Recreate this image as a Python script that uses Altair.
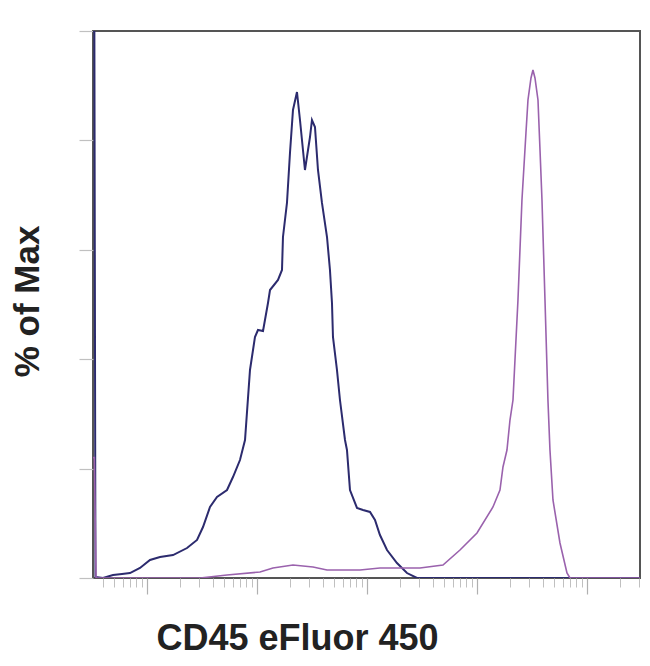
import altair as alt
import pandas as pd

# CD45 eFluor 450 intensity (arbitrary channel units, 0-1000) and % of Max
blue_x = [0, 2.5, 4.5, 18.3, 36.6, 53.0, 67.6, 85.9, 104.2, 122.5, 146.3, 171.9, 190.2, 201.1,
          213.9, 226.7, 245.0, 255.9, 268.7, 277.9, 287.0, 296.1, 301.6, 310.8, 319.9,
          323.6, 338.2, 345.5, 347.3, 354.6, 360.1, 365.6, 372.9, 378.4, 387.5, 396.7,
          400.3, 405.8, 411.3, 418.6, 427.8, 433.2, 436.9, 438.7, 446.0, 451.5, 460.7,
          464.3, 469.8, 482.6, 493.6, 506.4, 515.5, 524.6, 537.5, 555.7, 574.0, 592.3, 1000]
blue_y = [100, 100, 0.2, 0, 0.55, 0.73, 0.91, 1.83, 3.29, 3.84, 4.20, 5.48, 6.95, 9.32,
          12.98, 14.81, 16.09, 18.46, 21.57, 25.23, 38.03, 44.06, 45.34, 45.16, 50.27,
          52.65, 54.48, 56.31, 62.34, 68.56, 77.70, 85.56, 88.85, 83.73, 74.59, 80.62,
          83.73, 82.45, 74.59, 68.56, 62.34, 56.31, 50.27, 44.06, 38.03, 32.54, 25.23,
          23.40, 16.09, 12.80, 12.43, 12.07, 10.60, 7.86, 5.12, 2.74, 0.91, 0, 0]

purple_x = [0, 2.5, 5.5, 12.8, 195.6, 245.0, 305.3, 329.0, 365.6, 402.2, 427.8, 488.1, 524.6,
            548.4, 597.8, 639.8, 670.9, 702.0, 731.2, 744.0, 749.5, 756.8, 762.3, 767.8,
            776.9, 784.2, 791.5, 795.2, 800.7, 804.3, 808.0, 813.5, 817.2, 820.8, 826.3,
            831.7, 835.4, 840.9, 853.7, 866.5, 872.0, 1000]
purple_y = [22.0, 22.0, 0, 0, 0, 0.55, 1.10, 1.83, 2.38, 2.01, 1.46, 1.46, 1.83,
            1.83, 1.83, 2.38, 5.12, 8.23, 12.98, 16.09, 20.29, 23.40, 28.88, 32.54,
            50.82, 69.10, 81.35, 87.39, 91.41, 92.87, 91.41, 87.39, 78.24, 69.10, 50.82,
            32.54, 23.40, 14.26, 6.40, 0.91, 0, 0]

major_ticks = [99, 300, 501, 702, 903]
minor_ticks = [18.7, 38.2, 54.1, 67.5, 79.2, 89.5,
               159.2, 194.6, 219.8, 239.3, 255.2, 268.6, 280.3, 290.6,
               360.3, 395.7, 420.9, 440.4, 456.3, 469.7, 481.4, 491.7,
               561.4, 596.8, 622.0, 641.5, 657.4, 670.8, 682.5, 692.8,
               762.5, 797.9, 823.1, 842.6, 858.5, 871.9, 883.6, 893.9,
               963.6, 999.0]
y_ticks = [0, 20, 40, 60, 80, 100]

blue_df = pd.DataFrame({"x": blue_x, "y": blue_y})
purple_df = pd.DataFrame({"x": purple_x, "y": purple_y})

FONT = "Liberation Sans"
xscale = alt.Scale(domain=[0, 1000], nice=False, zero=False)
yscale = alt.Scale(domain=[0, 100], nice=False)

blue = alt.Chart(blue_df).mark_line(color="#2c2b6e", strokeWidth=2, clip=True).encode(
    x=alt.X("x:Q", scale=xscale,
            axis=alt.Axis(orient="bottom", values=major_ticks, labels=False, domain=False,
                          grid=False, tickSize=16, tickColor="#b0b0b0", tickWidth=1.2,
                          title="CD45 eFluor 450", titleFont=FONT, titleFontSize=36,
                          titleFontWeight="bold", titleColor="#222222",
                          titleAlign="left", titleBaseline="alphabetic",
                          titleX=63, titleY=71, titleAngle=0)),
    y=alt.Y("y:Q", scale=yscale,
            axis=alt.Axis(values=y_ticks, labels=False, domain=False, grid=False,
                          tickSize=14, tickColor="#c0c0c0", tickWidth=1.2,
                          title="% of Max", titleFont=FONT, titleFontSize=35,
                          titleFontWeight="bold", titleColor="#222222",
                          titleAngle=270, titleAlign="center", titleBaseline="middle",
                          titleX=-66, titleY=270)),
)

purple = alt.Chart(purple_df).mark_line(color="#9a62ad", strokeWidth=1.6, clip=True).encode(
    x=alt.X("x:Q", scale=xscale,
            axis=alt.Axis(orient="bottom", values=minor_ticks, labels=False, domain=False,
                          grid=False, tickSize=9, tickColor="#c0c0c0", tickWidth=1,
                          title=None)),
    y=alt.Y("y:Q", scale=yscale, axis=None),
)

chart = alt.layer(blue, purple).resolve_axis(x="independent", y="independent").properties(
    width=547, height=547,
    autosize=alt.AutoSizeParams(type="none"),
    padding={"left": 85, "top": 23, "right": 2, "bottom": 80},
    background="white",
).configure_view(stroke="#555555", strokeWidth=2)

chart.save("out.html", embed_options={"renderer": "svg", "actions": False})
